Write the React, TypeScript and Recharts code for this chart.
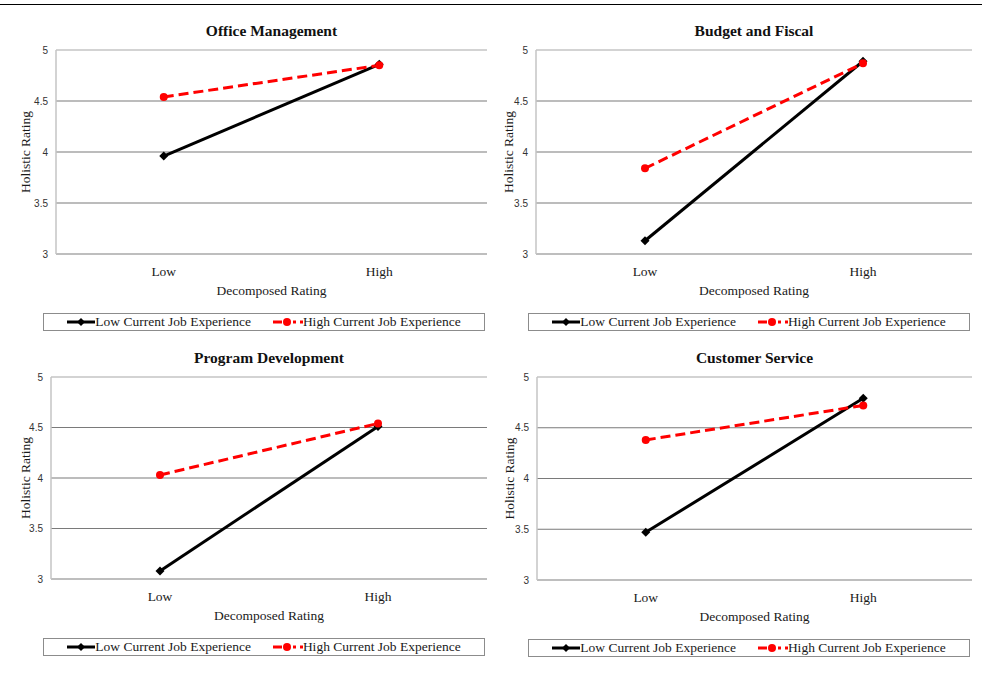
import { LineChart, Line, XAxis, YAxis, CartesianGrid, ReferenceLine } from 'recharts';

const levels = ['Low', 'High'];
const yTicks = [3, 3.5, 4, 4.5, 5];
const gridValues = [3.5, 4, 4.5];
const panelTitles = ['Office Management', 'Budget and Fiscal', 'Program Development', 'Customer Service'];
const lowExperience = [
  [3.96, 4.86],
  [3.13, 4.89],
  [3.08, 4.51],
  [3.47, 4.79],
];
const highExperience = [
  [4.54, 4.85],
  [3.84, 4.87],
  [4.03, 4.54],
  [4.38, 4.72],
];
const seriesNames = ['Low Current Job Experience', 'High Current Job Experience'];

const SERIF = '"Liberation Serif", "Times New Roman", serif';
const SANS = '"Liberation Sans", Arial, sans-serif';
const RED = '#ff0000';

// page layout of the four panels (pixels)
const panels = [
  { left: 0, top: 0, width: 495, height: 335, plotLeft: 56, plotRight: 487, plotTop: 50, plotBottom: 254, yLabelX: 25, legendLeft: 43, legendRight: 485, legendTop: 313 },
  { left: 495, top: 0, width: 487, height: 335, plotLeft: 536, plotRight: 972, plotTop: 50, plotBottom: 254, yLabelX: 508, legendLeft: 528, legendRight: 970, legendTop: 313 },
  { left: 0, top: 335, width: 495, height: 338, plotLeft: 51, plotRight: 487, plotTop: 377, plotBottom: 579, yLabelX: 25, legendLeft: 43, legendRight: 485, legendTop: 638 },
  { left: 495, top: 335, width: 487, height: 338, plotLeft: 537, plotRight: 972, plotTop: 377, plotBottom: 580, yLabelX: 509, legendLeft: 528, legendRight: 970, legendTop: 639 },
];

const X_AXIS_HEIGHT = 45;

const Diamond = (props: any) => {
  const { cx, cy, index } = props;
  if (cx == null || cy == null) return <g key={`d-${index}`} />;
  const s = 4.5;
  return (
    <path
      key={`d-${index}`}
      d={`M${cx},${cy - s}L${cx + s},${cy}L${cx},${cy + s}L${cx - s},${cy}Z`}
      fill="#000"
    />
  );
};

function LegendBox({ p }: { p: (typeof panels)[number] }) {
  return (
    <div
      style={{
        position: 'absolute',
        left: p.legendLeft,
        top: p.legendTop,
        width: p.legendRight - p.legendLeft,
        height: 18,
        boxSizing: 'border-box',
        border: '1.5px solid #8c8c8c',
        display: 'flex',
        alignItems: 'center',
        justifyContent: 'center',
        gap: 22,
        fontFamily: SERIF,
        fontSize: 13.5,
        color: '#1a1a1a',
        whiteSpace: 'nowrap',
      }}
    >
      <span style={{ display: 'flex', alignItems: 'center' }}>
        <svg width={28} height={10}>
          <line x1={0} y1={5} x2={28} y2={5} stroke="#000" strokeWidth={3} />
          <path d="M14,1L18,5L14,9L10,5Z" fill="#000" />
        </svg>
        <span>{seriesNames[0]}</span>
      </span>
      <span style={{ display: 'flex', alignItems: 'center' }}>
        <svg width={30} height={10}>
          <line x1={0} y1={5} x2={30} y2={5} stroke={RED} strokeWidth={3} strokeDasharray="9 3 0 8 3 4 3" />
          <circle cx={14} cy={5} r={4} fill={RED} />
        </svg>
        <span>{seriesNames[1]}</span>
      </span>
    </div>
  );
}

function Panel({ i }: { i: number }) {
  const p = panels[i];
  const data = levels.map((lvl, k) => ({
    level: lvl,
    low: lowExperience[i][k],
    high: highExperience[i][k],
  }));
  const margin = {
    top: p.plotTop - p.top,
    left: 0,
    right: p.left + p.width - p.plotRight,
    bottom: p.top + p.height - p.plotBottom - X_AXIS_HEIGHT,
  };
  return (
    <>
      <div
        style={{
          position: 'absolute',
          left: p.plotLeft,
          width: p.plotRight - p.plotLeft,
          top: p.plotTop - 29,
          textAlign: 'center',
          fontFamily: SERIF,
          fontWeight: 'bold',
          fontSize: 15.5,
          color: '#111',
          lineHeight: '20px',
        }}
      >
        {panelTitles[i]}
      </div>
      <div style={{ position: 'absolute', left: p.left, top: p.top }}>
        <LineChart width={p.width} height={p.height} data={data} margin={margin}>
          <CartesianGrid vertical={false} horizontalValues={gridValues} stroke="#7a7a7a" strokeWidth={1.2} />
          <ReferenceLine y={5} stroke="#c4c4c4" strokeWidth={1.5} />
          <XAxis
            dataKey="level"
            scale="band"
            height={X_AXIS_HEIGHT}
            tickLine={false}
            tickSize={0}
            tickMargin={12}
            axisLine={{ stroke: '#a8a8a8', strokeWidth: 1.5 }}
            tick={{ fontFamily: SERIF, fontSize: 13.5, fill: '#1a1a1a' }}
            label={{
              value: 'Decomposed Rating',
              position: 'insideBottom',
              offset: 4,
              style: { fontFamily: SERIF, fontSize: 13.5, fill: '#1a1a1a' },
            }}
          />
          <YAxis
            domain={[3, 5]}
            ticks={yTicks}
            width={p.plotLeft - p.left}
            tickLine={false}
            axisLine={{ stroke: '#c4c4c4', strokeWidth: 1.5 }}
            tick={{ fontFamily: SANS, fontSize: 10, fill: '#333' }}
            label={{
              value: 'Holistic Rating',
              angle: -90,
              position: 'insideLeft',
              offset: p.yLabelX - p.left,
              style: { fontFamily: SERIF, fontSize: 13.5, fill: '#1a1a1a', textAnchor: 'middle' },
            }}
          />
          <YAxis
            yAxisId="right"
            orientation="right"
            domain={[3, 5]}
            width={0}
            tick={false}
            tickLine={false}
            axisLine={{ stroke: '#c4c4c4', strokeWidth: 1.5 }}
          />
          <Line
            dataKey="low"
            name={seriesNames[0]}
            stroke="#000"
            strokeWidth={3}
            dot={Diamond}
            activeDot={false}
            isAnimationActive={false}
          />
          <Line
            dataKey="high"
            name={seriesNames[1]}
            stroke={RED}
            strokeWidth={3}
            strokeDasharray="10 5"
            dot={{ r: 4, fill: RED, stroke: 'none', strokeDasharray: '0' }}
            activeDot={false}
            isAnimationActive={false}
          />
        </LineChart>
      </div>
      <LegendBox p={p} />
    </>
  );
}

export default function App() {
  return (
    <div
      style={{
        position: 'absolute',
        left: 0,
        top: 0,
        width: 982,
        height: 673,
        background: '#fff',
        overflow: 'hidden',
      }}
    >
      <div style={{ position: 'absolute', left: 0, top: 4, width: 982, height: 0, borderTop: '1.5px solid #000' }} />
      {panelTitles.map((_, i) => (
        <Panel key={i} i={i} />
      ))}
    </div>
  );
}
